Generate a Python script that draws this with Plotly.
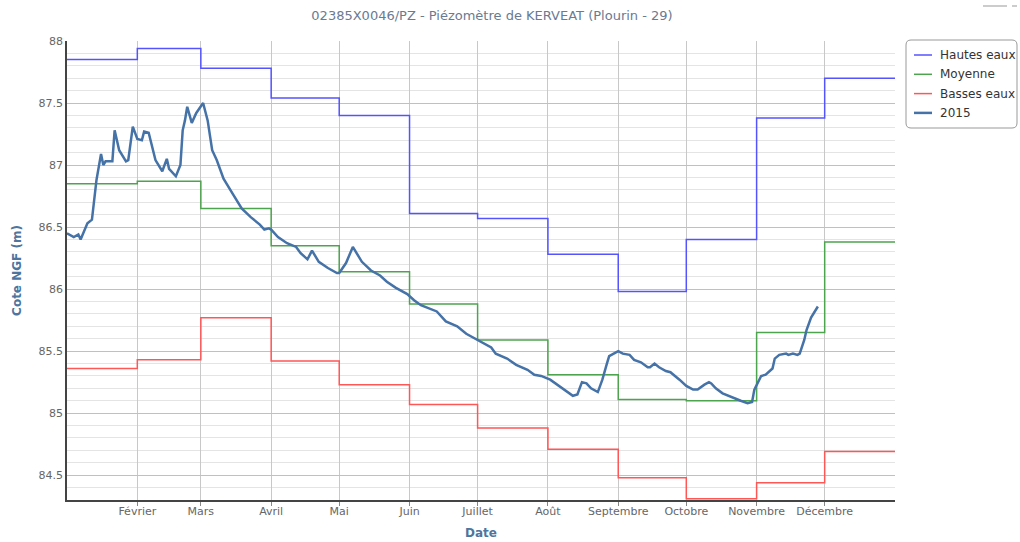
import pandas as pd
import plotly.graph_objects as go

# ---- data ----
month_starts = ["2015-01-01", "2015-02-01", "2015-03-01", "2015-04-01", "2015-05-01", "2015-06-01",
                "2015-07-01", "2015-08-01", "2015-09-01", "2015-10-01", "2015-11-01", "2015-12-01"]
period_end = "2016-01-01"

hautes_eaux = [87.85, 87.94, 87.78, 87.54, 87.40, 86.61, 86.57, 86.28, 85.98, 86.40, 87.38, 87.70]
moyenne = [86.85, 86.87, 86.65, 86.35, 86.14, 85.88, 85.59, 85.31, 85.11, 85.10, 85.65, 86.38]
basses_eaux = [85.36, 85.43, 85.77, 85.42, 85.23, 85.07, 84.88, 84.71, 84.48, 84.31, 84.44, 84.69]

# 2015 levels: day of year (0 = 1 Jan) and level (m NGF)
day_2015 = [0, 3, 5, 6, 9, 11, 13, 15, 16, 17, 20, 21, 23, 26, 27, 29, 31, 33, 34, 36,
            39, 42, 44, 45, 48, 50, 51, 52, 53, 55, 57, 60, 62, 64, 66, 69, 73, 77, 81, 85,
            87, 89, 90, 93, 97, 101, 103, 106, 108, 111, 115, 119, 120, 123, 126, 127, 130, 134, 138, 141,
            145, 150, 153, 156, 160, 163, 167, 172, 176, 181, 184, 187, 189, 194, 198, 203, 206, 209, 213, 216,
            219, 221, 223, 225, 227, 229, 231, 234, 236, 238, 239, 241, 243, 245, 248, 250, 253, 256, 257, 259,
            261, 264, 266, 270, 273, 276, 278, 281, 283, 284, 286, 289, 294, 297, 300, 302, 303, 305, 306, 308,
            311, 312, 314, 317, 318, 320, 322, 323, 325, 326, 328, 331]
level_2015 = [86.45, 86.42, 86.44, 86.40, 86.53, 86.56, 86.88, 87.09, 87.00, 87.03, 87.03, 87.28, 87.12, 87.03, 87.04, 87.31, 87.21, 87.20, 87.27, 87.26,
              87.04, 86.95, 87.05, 86.97, 86.91, 87.00, 87.28, 87.36, 87.47, 87.34, 87.42, 87.50, 87.36, 87.12, 87.04, 86.89, 86.77, 86.65, 86.58, 86.52,
              86.48, 86.49, 86.48, 86.42, 86.37, 86.34, 86.29, 86.24, 86.31, 86.22, 86.17, 86.13, 86.13, 86.21, 86.34, 86.31, 86.22, 86.15, 86.11, 86.06,
              86.01, 85.96, 85.91, 85.87, 85.84, 85.82, 85.74, 85.70, 85.64, 85.59, 85.56, 85.53, 85.48, 85.44, 85.39, 85.35, 85.31, 85.30, 85.27, 85.23,
              85.19, 85.16, 85.14, 85.15, 85.25, 85.24, 85.20, 85.17, 85.27, 85.40, 85.46, 85.48, 85.50, 85.48, 85.47, 85.43, 85.41, 85.37, 85.37, 85.40,
              85.37, 85.34, 85.33, 85.27, 85.22, 85.19, 85.19, 85.23, 85.25, 85.24, 85.20, 85.16, 85.12, 85.10, 85.08, 85.09, 85.19, 85.27, 85.30, 85.31,
              85.36, 85.44, 85.47, 85.48, 85.47, 85.48, 85.47, 85.48, 85.59, 85.67, 85.77, 85.86]

tick_dates = month_starts[1:]
tick_labels = ["Février", "Mars", "Avril", "Mai", "Juin", "Juillet", "Août",
               "Septembre", "Octobre", "Novembre", "Décembre"]

title_text = "02385X0046/PZ - Piézomètre de KERVEAT (Plourin - 29)"

# ---- figure ----
FONT = "DejaVu Sans"
L, R, T, B = 67, 895, 41, 500   # plot area in pixels
W, H = 1020, 542


def px(x):
    return (x - L) / (R - L)


def py(y):
    return (B - y) / (B - T)


step_x = month_starts + [period_end]
dates_2015 = pd.Timestamp("2015-01-01") + pd.to_timedelta(day_2015, unit="D")

series = [("Hautes eaux", hautes_eaux, "#5454ff"),
          ("Moyenne", moyenne, "#4ea34e"),
          ("Basses eaux", basses_eaux, "#ff5656")]

fig = go.Figure()
for name, vals, color in series:
    fig.add_trace(go.Scatter(x=step_x, y=vals + [vals[-1]], mode="lines", name=name,
                             line=dict(color=color, width=1.5, shape="hv")))

fig.add_trace(go.Scatter(x=dates_2015, y=level_2015, mode="lines", name="2015",
                         line=dict(color="#4572A7", width=2.5)))

fig.update_layout(
    width=W, height=H,
    margin=dict(l=L, r=W - R, t=T, b=H - B, autoexpand=False),
    paper_bgcolor="white", plot_bgcolor="white",
    font=dict(family=FONT, size=11, color="#666666"),
    title=dict(text=title_text, x=492 / W, xanchor="center", xref="container",
               y=1 - 15 / H, yanchor="middle", yref="container",
               font=dict(family=FONT, size=13, color="#6a7a92")),
    showlegend=False,
)

fig.update_xaxes(
    type="date", range=["2015-01-01", period_end],
    tickvals=tick_dates, ticktext=tick_labels,
    showgrid=True, gridcolor="#c8c8c8", gridwidth=1,
    showline=True, linecolor="#444444", linewidth=1.5,
    ticks="outside", ticklen=4, tickcolor="#888888", ticklabelstandoff=-4,
    tickfont=dict(family=FONT, size=11, color="#666666"),
    title=dict(text="<b>Date</b>", font=dict(family=FONT, size=12, color="#4d759e"), standoff=12),
    zeroline=False, automargin=False,
)
fig.update_yaxes(
    range=[84.3, 88.0], tick0=84.5, dtick=0.5,
    showgrid=True, gridcolor="#c0c0c0", gridwidth=1,
    minor=dict(dtick=0.1, tick0=84.3, showgrid=True, gridcolor="#e4e4e4", gridwidth=1),
    showline=True, linecolor="#444444", linewidth=1.5,
    ticks="", tickfont=dict(family=FONT, size=11, color="#666666"),
    title=dict(text="<b>Cote NGF (m)</b>", font=dict(family=FONT, size=12, color="#4d759e"), standoff=14),
    zeroline=False, automargin=False,
)

# ---- manual legend (box, line samples, text) ----
x0b, x1b, y0b, y1b, r = 906, 1017, 40, 128, 5
path = (f"M {px(x0b + r)},{py(y0b)} L {px(x1b - r)},{py(y0b)} "
        f"Q {px(x1b)},{py(y0b)} {px(x1b)},{py(y0b + r)} "
        f"L {px(x1b)},{py(y1b - r)} Q {px(x1b)},{py(y1b)} {px(x1b - r)},{py(y1b)} "
        f"L {px(x0b + r)},{py(y1b)} Q {px(x0b)},{py(y1b)} {px(x0b)},{py(y1b - r)} "
        f"L {px(x0b)},{py(y0b + r)} Q {px(x0b)},{py(y0b)} {px(x0b + r)},{py(y0b)} Z")
fig.add_shape(type="path", path=path, xref="paper", yref="paper",
              line=dict(color="#999999", width=1), fillcolor="white", layer="above")

legend_items = [(n, c, 1.5) for n, _, c in series] + [("2015", "#4572A7", 2.5)]
for i, (name, color, lw) in enumerate(legend_items):
    yy = 55 + i * 19.3
    fig.add_shape(type="line", xref="paper", yref="paper",
                  x0=px(914), x1=px(932), y0=py(yy), y1=py(yy),
                  line=dict(color=color, width=lw), layer="above")
    fig.add_annotation(text=name, xref="paper", yref="paper", x=px(938), y=py(yy),
                       xanchor="left", yanchor="middle", showarrow=False,
                       font=dict(family=FONT, size=12, color="#333333"))

# small export-button remnant at top right
for a, b in [(983, 1007), (1012, 1017)]:
    fig.add_shape(type="line", xref="paper", yref="paper",
                  x0=px(a), x1=px(b), y0=py(6), y1=py(6),
                  line=dict(color="#cccccc", width=2))

fig.write_html("out.html", config={"displayModeBar": False},
               post_script="document.body.style.margin='0';")
